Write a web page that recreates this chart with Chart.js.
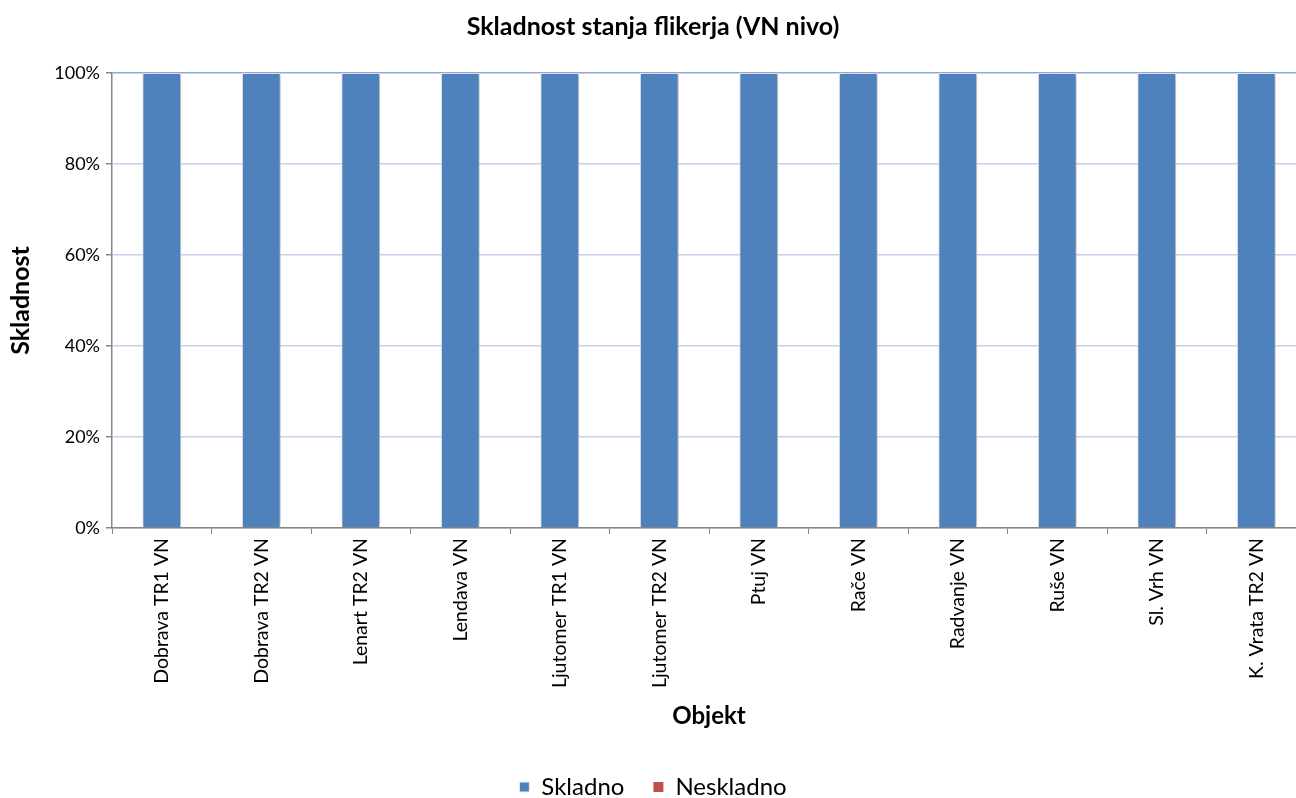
<!DOCTYPE html>
<html>
<head>
<meta charset="utf-8">
<script src="https://cdn.jsdelivr.net/npm/chart.js@4/dist/chart.umd.min.js"></script>
<style>
  html, body { margin: 0; padding: 0; background: #fff; overflow: hidden; }
  #wrap { position: relative; width: 1306px; height: 809px; }
</style>
</head>
<body>
<div id="wrap"><canvas id="c"></canvas></div>
<script>
// Stations (VN level) and share of compliant / non-compliant flicker measurements
const categories = [
  'Dobrava TR1 VN', 'Dobrava TR2 VN', 'Lenart TR2 VN', 'Lendava VN',
  'Ljutomer TR1 VN', 'Ljutomer TR2 VN', 'Ptuj VN', 'Rače VN',
  'Radvanje VN', 'Ruše VN', 'Sl. Vrh VN', 'K. Vrata TR2 VN'
];
const skladno   = [100, 100, 100, 100, 100, 100, 100, 100, 100, 100, 100, 100];
const neskladno = [0, 0, 0, 0, 0, 0, 0, 0, 0, 0, 0, 0];
const yTicks = [0, 20, 40, 60, 80, 100];

const FONT = 'Lato, "Open Sans", sans-serif';
const PLOT_LEFT = 112, PLOT_BOTTOM = 528;

// soft drop shadow behind the bars
const barShadow = {
  id: 'barShadow',
  beforeDatasetsDraw(chart) {
    const ctx = chart.ctx;
    ctx.save();
    ctx.shadowColor = 'rgba(0,0,0,0.3)';
    ctx.shadowBlur = 5;
    ctx.shadowOffsetX = 2;
    ctx.shadowOffsetY = 0;
  },
  afterDatasetsDraw(chart) { chart.ctx.restore(); }
};

new Chart(document.getElementById('c'), {
  type: 'bar',
  data: {
    labels: categories,
    datasets: [
      { label: 'Skladno', data: skladno, backgroundColor: '#4f81bd',
        borderColor: '#f2f2f2', borderWidth: 1, borderSkipped: 'bottom',
        categoryPercentage: 1.0, barPercentage: 0.39 },
      { label: 'Neskladno', data: neskladno, backgroundColor: '#c0504d',
        borderColor: '#f2f2f2', borderWidth: 0,
        categoryPercentage: 1.0, barPercentage: 0.39 }
    ]
  },
  options: {
    responsive: true,
    maintainAspectRatio: false,
    animation: false,
    layout: { padding: 0 },
    plugins: {
      title: {
        display: true,
        text: 'Skladnost stanja flikerja (VN nivo)',
        color: '#000',
        font: { family: FONT, size: 25, weight: 'bold', lineHeight: 1.2 },
        padding: { top: 12, bottom: 31 }
      },
      legend: {
        position: 'bottom',
        labels: {
          color: '#000',
          font: { family: FONT, size: 24 },
          boxWidth: 10, boxHeight: 10, padding: 29
        }
      },
      tooltip: { enabled: false }
    },
    scales: {
      x: {
        stacked: true,
        offset: true,
        grid: { display: true, drawOnChartArea: false, offset: true,
                tickLength: 6, color: '#868686' },
        border: { display: true, color: '#868686', width: 1.5 },
        ticks: { color: '#000', font: { family: FONT, size: 19.5 },
                 maxRotation: 90, minRotation: 90, padding: 4 },
        title: { display: true, text: 'Objekt', color: '#000',
                 font: { family: FONT, size: 24, weight: 'bold', lineHeight: 1.2 },
                 padding: { top: 0, bottom: 15 } },
        afterFit(scale) {
          const lg = scale.chart.legend ? scale.chart.legend.height : 0;
          scale.height = scale.chart.height - PLOT_BOTTOM - lg;
        }
      },
      y: {
        stacked: true,
        min: 0, max: 100,
        afterBuildTicks(scale) { scale.ticks = yTicks.map(v => ({ value: v })); },
        grid: {
          color: (c) => c.tick && c.tick.value === 100 ? '#8eaadb' : '#c3d1ea',
          lineWidth: 1.5,
          tickLength: 6,
          tickColor: '#868686'
        },
        border: { display: true, color: '#868686', width: 1.5 },
        ticks: { color: '#000', font: { family: FONT, size: 18 }, padding: 6,
                 callback: (v) => v + '%' },
        title: { display: true, text: 'Skladnost', color: '#000',
                 font: { family: FONT, size: 25, weight: 'bold', lineHeight: 1.2 },
                 padding: { top: 6, bottom: 0 } },
        afterFit(scale) { scale.width = PLOT_LEFT; }
      }
    }
  },
  plugins: [barShadow]
});
</script>
</body>
</html>
